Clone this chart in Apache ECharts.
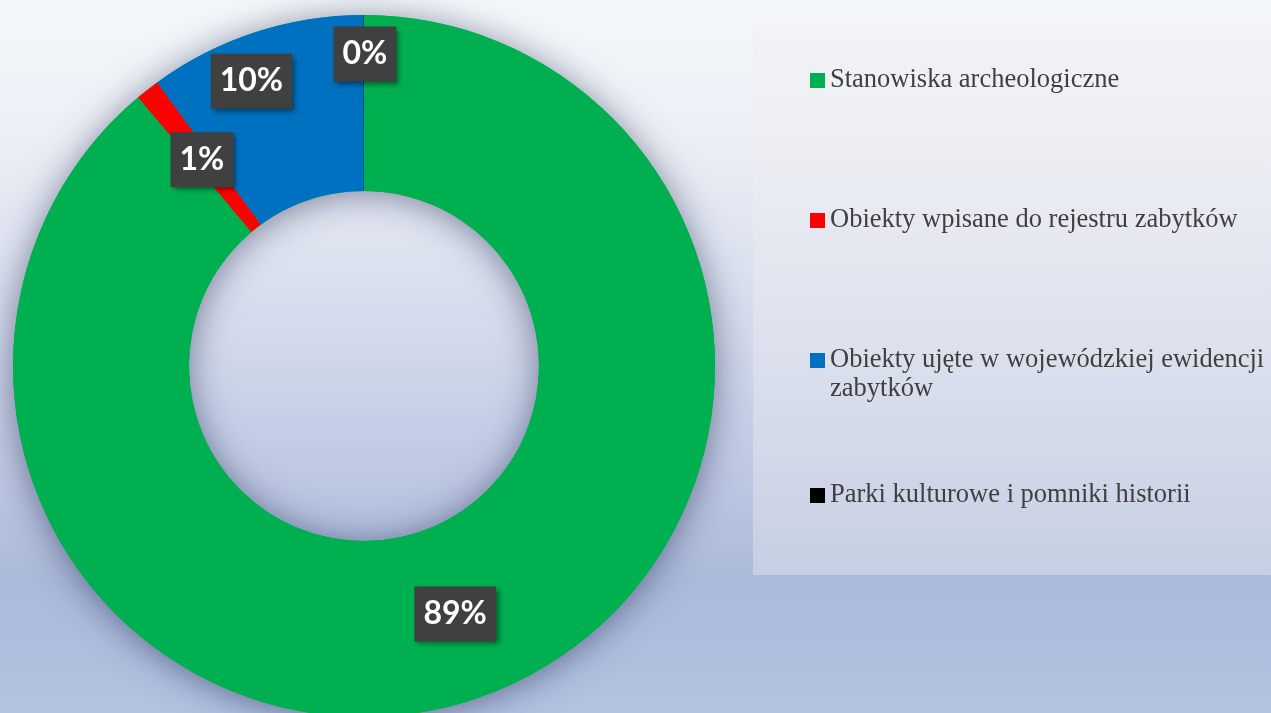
<!DOCTYPE html>
<html>
<head>
<meta charset="utf-8">
<title>Zabytki - struktura</title>
<script src="https://cdn.jsdelivr.net/npm/echarts@6/dist/echarts.min.js"></script>
<style>
    html, body { margin: 0; padding: 0; }
    #chart { width: 1271px; height: 713px; }
</style>
</head>
<body>
<div id="chart"></div>
<script>
    // dane
    var categories = [
        'Stanowiska archeologiczne',
        'Obiekty wpisane do rejestru zabytków',
        'Obiekty ujęte w wojewódzkiej ewidencji zabytków',
        'Parki kulturowe i pomniki historii'
    ];
    var shares = [88.8, 1.1, 10.0, 0.02];

    // wygląd
    var colors = ['#00b050', '#ff0000', '#0070c0', '#000000'];
    // etykiety 10% i 0% zostały w oryginale ręcznie przesunięte
    var labelShift = [[0, -2], [2, 3], [-30, -32], [1, -46]];
    var legendTops = [61, 201, 312, 476];

    var chart = echarts.init(document.getElementById('chart'));

    var legends = categories.map(function (name, i) {
        var lg = {
            left: 805,
            top: legendTops[i],
            orient: 'vertical',
            selectedMode: false,
            itemWidth: 15,
            itemHeight: 15,
            data: [{ name: name, icon: 'rect' }],
            textStyle: {
                fontFamily: 'Liberation Serif',
                fontSize: 26.5,
                lineHeight: 29,
                color: '#404040'
            }
        };
        if (i === 2) {
            // pusty pierwszy wiersz, żeby znacznik stał przy pierwszej linii tekstu
            lg.formatter = function (n) { return '\n' + n.replace(/ (zabytków)$/, '\n$1'); };
        }
        return lg;
    });

    var option = {
        animation: false,
        backgroundColor: {
            type: 'linear', x: 0, y: 0, x2: 0, y2: 1,
            colorStops: [
                { offset: 0, color: '#f4f7fa' },
                { offset: 0.2, color: '#ebeef5' },
                { offset: 0.5, color: '#d0d7ea' },
                { offset: 0.82, color: '#abb9da' },
                { offset: 1, color: '#b4c2e2' }
            ]
        },
        color: colors,
        graphic: [{
            type: 'rect',
            shape: { x: 753, y: 22, width: 518, height: 553 },
            style: { fill: 'rgba(238,238,242,0.38)' },
            silent: true
        }],
        legend: legends,
        series: [
            {
                // cień pod pierścieniem
                type: 'pie',
                silent: true,
                center: [364, 366],
                radius: [175, 351],
                label: { show: false },
                labelLine: { show: false },
                itemStyle: {
                    color: '#00b050',
                    shadowBlur: 34,
                    shadowColor: 'rgba(20,30,70,0.5)',
                    shadowOffsetY: 3
                },
                data: [{ value: 1, name: '' }],
                z: 1
            },
            {
                type: 'pie',
                center: [364, 366],
                radius: [175, 351],
                startAngle: 90,
                clockwise: true,
                avoidLabelOverlap: false,
                label: {
                    show: true,
                    position: 'inside',
                    formatter: function (p) { return Math.round(p.percent) + '%'; },
                    color: '#ffffff',
                    fontFamily: 'Lato',
                    fontWeight: 'bold',
                    fontSize: 32,
                    lineHeight: 35,
                    backgroundColor: '#404040',
                    padding: [10, 9],
                    shadowColor: 'rgba(0,0,0,0.45)',
                    shadowBlur: 5,
                    shadowOffsetX: 3,
                    shadowOffsetY: 3
                },
                labelLayout: function (p) {
                    var s = labelShift[p.dataIndex];
                    return { dx: s[0], dy: s[1] };
                },
                labelLine: { show: false },
                data: categories.map(function (c, i) {
                    return { name: c, value: shares[i] };
                }),
                z: 2
            }
        ]
    };

    chart.setOption(option);
</script>
</body>
</html>
